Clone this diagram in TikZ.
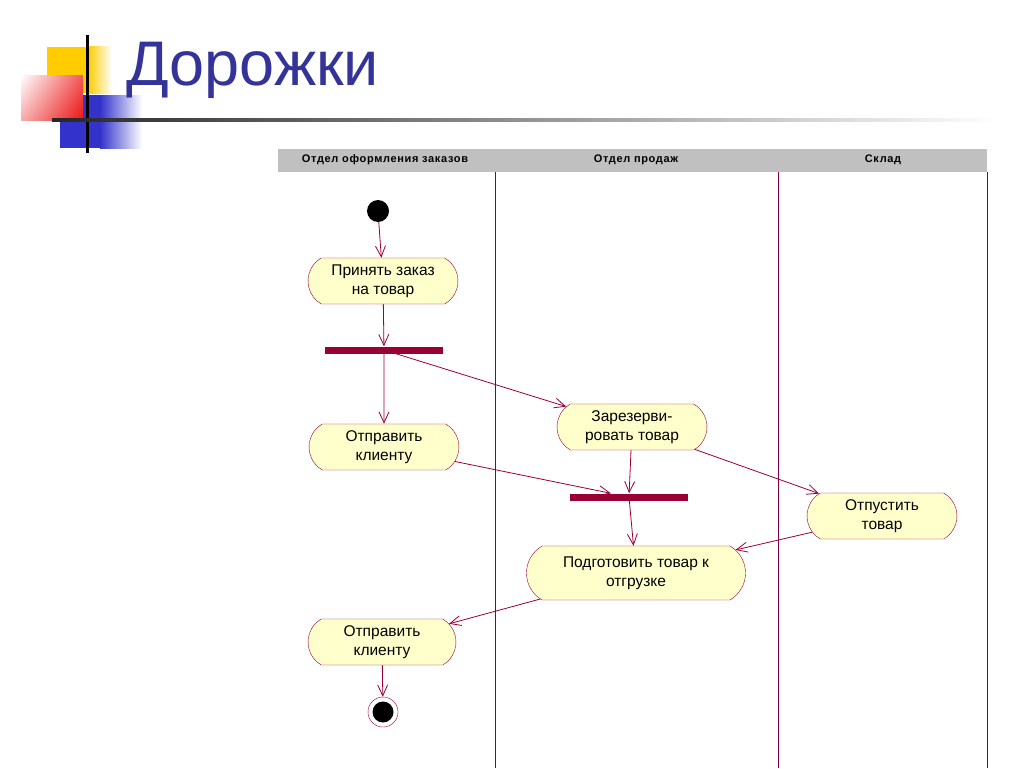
\documentclass[tikz,border=0pt]{standalone}
\usepackage{fontspec}
\setmainfont{Liberation Sans}
\newfontfamily\headfont[LetterSpace=6]{Liberation Sans}
\usetikzlibrary{arrows.meta,shapes.misc,shapes.geometric,shadings}

\definecolor{umlred}{RGB}{153,0,51}
\definecolor{lanecol}{RGB}{128,0,64}
\definecolor{actfill}{RGB}{255,255,204}
\definecolor{headgray}{RGB}{192,192,192}
\definecolor{titleblue}{RGB}{51,51,153}
\definecolor{logoyellow}{RGB}{255,204,0}
\definecolor{logoblue}{RGB}{51,51,204}
\definecolor{logored}{RGB}{235,20,20}

\tikzset{
  activity/.style={rounded rectangle, rounded rectangle arc length=120,
    draw=umlred, fill=actfill, minimum width=150pt, minimum height=46pt,
    inner sep=0pt, align=center, font=\fontsize{15.5}{19}\selectfont},
  syncbar/.style={rectangle, fill=umlred, minimum width=118pt,
    minimum height=7pt, inner sep=0pt},
  flow/.style={draw=umlred, line width=0.8pt,
    -{Straight Barb[length=11pt,width=10pt,line width=0.8pt]}},
  lanehead/.style={font=\headfont\fontsize{11}{13}\selectfont\bfseries}
}

\begin{document}
\begin{tikzpicture}[x=1pt,y=-1pt]
\useasboundingbox (0,0) rectangle (1024,768);

% Logo squares
\fill[logoyellow] (47,47) rectangle (88,93);
\shade[left color=logoyellow, right color=white] (88,47) rectangle (112,93);
\fill[logoblue] (60,95) rectangle (100,148);
\shade[left color=logoblue, right color=white] (100,95) rectangle (142,148);
\shade[upper left=white, upper right=logored!70, lower left=logored!35,
    lower right=logored] (21,75) rectangle (83,120);
\draw[line width=3pt] (87,35) -- (87,153);
\shade[left color=black!85, right color=white] (52,118.5) rectangle (1000,121.5);

% Title
\node[anchor=base west, text=titleblue, font=\fontsize{63}{70}\selectfont,
    inner sep=0pt] (title) at (126,85) {Дорожки};

% Swimlanes
\fill[headgray] (278,149) rectangle (987,172);
\node[lanehead] (laneA) at (385,160) {Отдел оформления  заказов};
\node[lanehead] (laneB) at (636,160) {Отдел продаж};
\node[lanehead] (laneC) at (883,160) {Склад};
\foreach \xl in {495,778,987} {
    \draw[lanecol, line width=0.8pt] (\xl,172) -- (\xl,768);
}

% Activities
\node[circle, fill=black, minimum size=22pt, inner sep=0pt] (start) at (378,211) {};
\node[activity] (take) at (383,281) {Принять заказ\\на товар};
\node[syncbar] (fork) at (384,350) {};
\node[activity] (sendA) at (384,447) {Отправить\\клиенту};
\node[activity] (reserve) at (632,427) {Зарезерви-\\ровать товар};
\node[syncbar] (join) at (629,497) {};
\node[activity] (release) at (882,516) {Отпустить\\товар};
\node[activity, minimum width=219pt, minimum height=54pt] (prepare) at (636,573)
    {Подготовить товар к\\отгрузке};
\node[activity, minimum width=148pt] (sendB) at (382,642) {Отправить\\клиенту};
\node[circle, draw=umlred, fill=white, minimum size=30pt, inner sep=0pt] (stop) at (383,712) {};
\fill[black] (stop.center) circle (10.5);

% Transitions
\draw[flow] (start) -- (take);
\draw[flow] (take) -- (fork);
\draw[flow] (fork) -- (sendA);
\draw[flow] (fork) -- (reserve);
\draw[flow] (sendA) -- (join);
\draw[flow] (reserve) -- (join);
\draw[flow] (reserve) -- (release);
\draw[flow] (join) -- (prepare);
\draw[flow] (release) -- (prepare);
\draw[flow] (prepare) -- (sendB);
\draw[flow] (sendB) -- (stop);
\end{tikzpicture}
\end{document}
